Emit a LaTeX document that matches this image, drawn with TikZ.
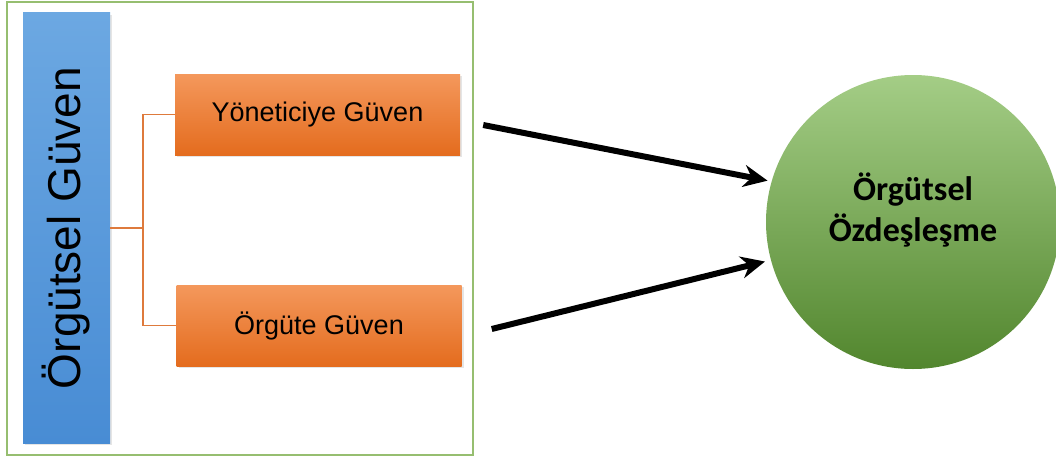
\documentclass[tikz,border=0pt]{standalone}
\usepackage{fontspec}
\setmainfont{Liberation Sans}
\newfontfamily\circlefont{Carlito}
\usepackage{tikz}
\usetikzlibrary{calc}
\usetikzlibrary{shadows}
\usetikzlibrary{arrows.meta}
\definecolor{barlight}{RGB}{108,168,226}
\definecolor{bardark}{RGB}{72,140,212}
\definecolor{boxlight}{RGB}{244,152,92}
\definecolor{boxdark}{RGB}{228,108,30}
\definecolor{circlelight}{RGB}{164,205,134}
\definecolor{circlemid}{RGB}{120,180,76}
\definecolor{circledark}{RGB}{82,134,46}
\definecolor{framegreen}{RGB}{150,190,112}
\definecolor{forkorange}{RGB}{222,122,60}
\tikzset{
	framestyle/.style={rectangle,draw=framegreen,line width=2pt,fill=white},
	barstyle/.style={rectangle,rotate=90,top color=barlight,bottom color=bardark,
		font=\fontsize{46}{50}\selectfont,
		drop shadow={opacity=0.2,shadow xshift=2pt,shadow yshift=-2pt}},
	boxstyle/.style={rectangle,top color=boxlight,bottom color=boxdark,
		minimum width=285pt,minimum height=81pt,font=\fontsize{27}{30}\selectfont,
		drop shadow={opacity=0.2,shadow xshift=2pt,shadow yshift=-2pt}},
	circlestyle/.style={circle,top color=circlelight,middle color=circlemid,bottom color=circledark,
		minimum size=294pt},
	circletext/.style={align=center,font=\circlefont\bfseries\fontsize{34}{41}\selectfont},
	forkstyle/.style={draw=forkorange,line width=1.5pt},
	arrowstyle/.style={line width=6pt,-{Stealth[length=24pt,width=22pt]}}
}
\begin{document}
\begin{tikzpicture}[x=1pt,y=1pt]
	\useasboundingbox (0,0) rectangle (1056,459);
	\node[framestyle,minimum width=466pt,minimum height=453pt] (frame) at (240,230.5) {};
	\node[barstyle,minimum width=430pt,minimum height=87pt] (bar) at (66.5,231) {Örgütsel Güven};
	\node[boxstyle] (top) at (317.5,344.5) {Yöneticiye Güven};
	\node[boxstyle] (bottom) at (319,133.5) {Örgüte Güven};
	\node[circlestyle] (target) at (913,237) {};
	\node[circletext] (targetlabel) at ([yshift=12pt]target.center) {Örgütsel\\Özdeşleşme};
	\coordinate (fork) at (143,231);
	\coordinate (tail1) at ($(top.east)+(23,-10.5)$);
	\coordinate (tail2) at ($(bottom.east)+(30,-3.5)$);
	\draw[forkstyle] (bar.south) -- (fork);
	\draw[forkstyle] (fork) |- (top.west);
	\draw[forkstyle] (fork) |- (bottom.west);
	\draw[arrowstyle,shorten >=4pt] (tail1)--(target.164.7);
	\draw[arrowstyle,shorten >=6pt] (tail2)--(target.195.5);
\end{tikzpicture}
\end{document}
